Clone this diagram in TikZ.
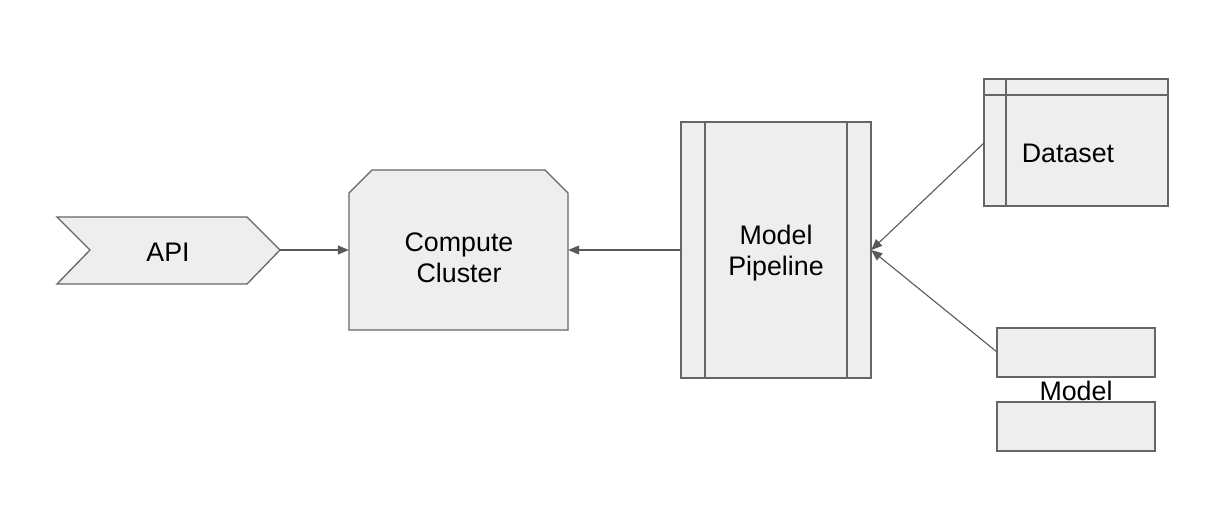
\documentclass[tikz,border=0pt]{standalone}
\usepackage{fontspec}
\setmainfont{Liberation Sans}
\usetikzlibrary{arrows.meta}
\definecolor{shapefill}{HTML}{EEEEEE}
\definecolor{shapeline}{HTML}{666666}
\definecolor{arrowline}{HTML}{595959}
\begin{document}
\begin{tikzpicture}[x=1pt,y=-1pt,
  shapestyle/.style={fill=shapefill,draw=shapeline,line width=1.3pt,line join=miter},
  inner/.style={draw=shapeline,line width=1.3pt},
  lbl/.style={font=\fontsize{26.8}{31.5}\selectfont,align=center,inner sep=0pt},
  holder/.style={draw=none,rectangle,inner sep=0pt},
  conn/.style={draw=arrowline,line width=1.1pt,-{Triangle[length=11pt,width=9pt]}}]
\useasboundingbox[fill=white] (0,0) rectangle (1209,509);
% API (chevron)
\draw[shapestyle] (57,217) -- (247,217) -- (280,250) -- (247,284) -- (57,284) -- (90,250) -- cycle;
\node[holder,minimum width=223pt,minimum height=66pt] (api) at (168.5,250) {};
\node[lbl] at (168,252) {API};
% Compute Cluster
\draw[shapestyle] (349,193) -- (372,170) -- (545,170) -- (568,193) -- (568,330) -- (349,330) -- cycle;
\node[holder,minimum width=219pt,minimum height=160pt] (cc) at (458.5,250) {};
\node[lbl] at (459,258) {Compute\\Cluster};
% Model Pipeline
\draw[shapestyle] (681,122) rectangle (871,378);
\draw[inner] (705,122) -- (705,378);
\draw[inner] (847,122) -- (847,378);
\node[holder,minimum width=190pt,minimum height=256pt] (mp) at (776,250) {};
\node[lbl] at (776,253) {Model\\Pipeline};
% Dataset
\draw[shapestyle] (984,79) rectangle (1168,206);
\draw[inner] (984,95) -- (1168,95);
\draw[inner] (1006,79) -- (1006,206);
\node[holder,minimum width=184pt,minimum height=127pt] (ds) at (1076,142.5) {};
\coordinate (dsout) at (984,143);
\node[lbl] at (1068,153) {Dataset};
% Model (two boxes)
\draw[shapestyle] (997,328) rectangle (1155,377);
\draw[shapestyle] (997,402) rectangle (1155,451);
\coordinate (mdout) at (997,352);
\node[lbl] (md) at (1076,391) {Model};
% connectors
\draw[conn] (api.east) -- (cc.west);
\draw[conn] (mp.west) -- (cc.east);
\draw[conn] (dsout) -- (mp.east);
\draw[conn] (mdout) -- (mp.east);
\end{tikzpicture}
\end{document}
